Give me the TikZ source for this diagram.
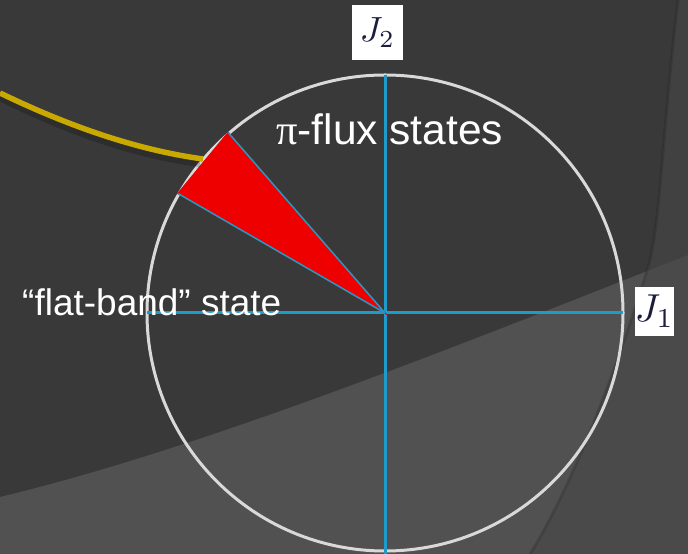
\documentclass[tikz,border=0pt]{standalone}
\usepackage{fontspec}
\setmainfont{Liberation Sans}
\newfontfamily\pifont{Liberation Serif}
\definecolor{BGdark}{HTML}{393939}
\definecolor{BGlow}{HTML}{515151}
\definecolor{BGband}{HTML}{414141}
\definecolor{BGbandlow}{HTML}{4A4A4A}
\definecolor{AXblue}{HTML}{1E9BC8}
\definecolor{SECred}{HTML}{EE0000}
\definecolor{CRVgold}{HTML}{C9A800}
\definecolor{RIMgray}{HTML}{D9D9D9}
\definecolor{JXnavy}{HTML}{1C1C3C}
\usetikzlibrary{calc}

\begin{document}
\begin{tikzpicture}[x=1pt, y=1pt,
   jbox/.style={fill=white, inner sep=0pt, text=JXnavy},
   slidetext/.style={anchor=base west, inner sep=0pt, text=white}]
            % Background
            \fill[BGdark] (0,0) rectangle (688,554);
            \useasboundingbox (0,0) rectangle (688,554);
            \fill[BGlow] (0,0) -- (0,57) .. controls (200,105) and (450,205) .. (688,299) -- (688,0) -- cycle;
            \begin{scope}
               \clip (678,554) .. controls (662,420) and (660,320) .. (647,284)
                  .. controls (628,220) and (580,80) .. (530,0) -- (688,0) -- (688,554) -- cycle;
               \fill[BGband] (0,0) rectangle (688,554);
               \fill[BGbandlow] (0,0) -- (0,57) .. controls (200,105) and (450,205) .. (688,299) -- (688,0) -- cycle;
            \end{scope}
            \draw[black, opacity=0.12, line width=3] (678,554) .. controls (662,420) and (660,320) .. (647,284)
               .. controls (628,220) and (580,80) .. (530,0);
            % Circle of couplings
            \coordinate (o) at (385,241);
            \draw[RIMgray, line width=3] (o) circle (238);
            % Axes
            \draw[AXblue, line width=3] (o) -- ++(0,238);
            \draw[AXblue, line width=3] (o) -- ++(0,-241);
            \draw[AXblue, line width=3] (o) -- ++(-238,0);
            \draw[AXblue, line width=3] (o) -- ++(238,0);
            % Labels
            \node[slidetext, font=\fontsize{42.5}{50}\selectfont] (piflux) at (276,409) {{\pifont π}-flux states};
            \node[slidetext, font=\fontsize{37}{44}\selectfont] (flat) at (22,238) {“flat-band” state};
            % Red sector: 131 to 150 degrees
            \coordinate (a1) at ($(o)+(131:239)$);
            \coordinate (a2) at ($(o)+(150:239)$);
            \filldraw[SECred, line width=1.5] (o) -- (a1) -- (a2) -- cycle;
            \draw[AXblue, line width=1.5] (o) -- (a1);
            \draw[AXblue, line width=1.5] (o) -- (a2);
            % Gold pointer with shadow
            \coordinate (hook) at (203,395);
            \draw[black, opacity=0.2, line width=8] (0,457) .. controls (60,427) and (130,400) .. (200,391);
            \draw[CRVgold, line width=5.5] (0,461) .. controls (60,432) and (130,405) .. (hook);
            % Axis names
            \node[jbox, minimum width=51, minimum height=55] (j2) at (377.5,521.5) {\scalebox{3.5}{$J_2$}};
            \node[jbox, minimum width=37, minimum height=49] (j1) at (654.5,242.5) {\scalebox{3.9}{$J_1$}};
         \end{tikzpicture}
\end{document}
